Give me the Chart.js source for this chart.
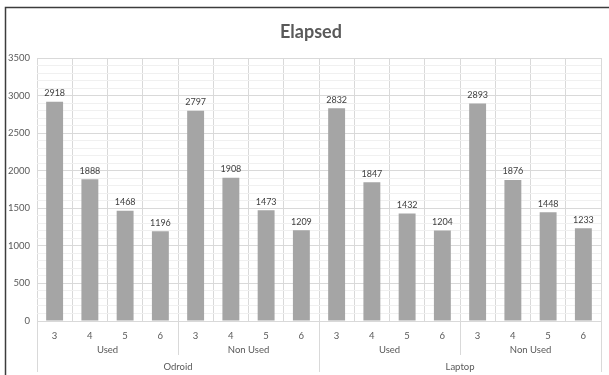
<!DOCTYPE html>
<html>
<head>
<meta charset="utf-8">
<script src="https://cdn.jsdelivr.net/npm/chart.js@4/dist/chart.umd.min.js"></script>
<style>
  html, body { margin: 0; padding: 0; background: #ffffff; }
  #wrap { width: 609px; height: 375px; position: relative; }
</style>
</head>
<body>
<div id="wrap"><canvas id="c" width="609" height="375"></canvas></div>
<script>
// Elapsed time per run, grouped by device and usage state
const threadLabels = ["3", "4", "5", "6", "3", "4", "5", "6", "3", "4", "5", "6", "3", "4", "5", "6"];
const usageLabels = ["Used", "Non Used", "Used", "Non Used"];
const deviceLabels = ["Odroid", "Laptop"];
const elapsedValues = [2918, 1888, 1468, 1196, 2797, 1908, 1473, 1209, 2832, 1847, 1432, 1204, 2893, 1876, 1448, 1233];
const yTicks = [0, 500, 1000, 1500, 2000, 2500, 3000, 3500];
const chartTitle = "Elapsed";

const FONT = "Lato, 'Liberation Sans', sans-serif";
const TEXT = "#595959";
const GRID_MAJOR = "#d9d9d9";
const GRID_MINOR = "#f0f0f0";

// Frame, title, value labels and the grouped category axis
const decorations = {
  id: "decorations",
  beforeDraw(chart) {
    const ctx = chart.ctx;
    ctx.save();
    ctx.fillStyle = "#ffffff";
    ctx.fillRect(0, 0, chart.width, chart.height);
    ctx.restore();
  },
  afterDraw(chart) {
    const ctx = chart.ctx;
    const x = chart.scales.x;
    const area = chart.chartArea;
    const n = threadLabels.length;
    const step = (area.right - area.left) / n;
    ctx.save();

    // outer frame
    ctx.strokeStyle = "#3c3c3c";
    ctx.lineWidth = 1.5;
    ctx.beginPath();
    ctx.moveTo(5.5, chart.height);
    ctx.lineTo(5.5, 7.5);
    ctx.lineTo(chart.width, 7.5);
    ctx.stroke();

    // title
    ctx.fillStyle = TEXT;
    ctx.font = "bold 18px " + FONT;
    ctx.textAlign = "center";
    ctx.textBaseline = "middle";
    ctx.fillText(chartTitle, 311, 32);

    // value labels above bars
    ctx.font = "9px " + FONT;
    ctx.fillStyle = "#404040";
    ctx.textBaseline = "bottom";
    const meta = chart.getDatasetMeta(0);
    meta.data.forEach((bar, i) => {
      ctx.fillText(String(elapsedValues[i]), bar.x, bar.y - 4);
    });

    // grouped axis dividers
    ctx.strokeStyle = GRID_MAJOR;
    ctx.lineWidth = 1;
    const boundary = (k) => Math.round(x.getPixelForValue(k) - step / 2) + 0.5;
    for (let k = 0; k <= n; k += 4) {
      const px = k === n ? Math.round(area.right) + 0.5 : boundary(k);
      const deep = (k % 8 === 0);
      ctx.beginPath();
      ctx.moveTo(px, area.bottom);
      ctx.lineTo(px, deep ? 372 : 355);
      ctx.stroke();
    }

    // usage labels
    ctx.fillStyle = TEXT;
    ctx.font = "9.5px " + FONT;
    ctx.textBaseline = "middle";
    usageLabels.forEach((lab, g) => {
      const a = x.getPixelForValue(g * 4);
      const b = x.getPixelForValue(g * 4 + 3);
      ctx.fillText(lab, (a + b) / 2, 350);
    });
    // device labels
    deviceLabels.forEach((lab, g) => {
      const a = x.getPixelForValue(g * 8);
      const b = x.getPixelForValue(g * 8 + 7);
      ctx.fillText(lab, (a + b) / 2, 367);
    });
    ctx.restore();
  }
};

new Chart(document.getElementById("c"), {
  type: "bar",
  data: {
    labels: threadLabels,
    datasets: [{
      label: chartTitle,
      data: elapsedValues,
      backgroundColor: "#a5a5a5",
      borderWidth: 0,
      barPercentage: 0.48,
      categoryPercentage: 1.0
    }]
  },
  options: {
    responsive: false,
    animation: false,
    devicePixelRatio: 1,
    layout: { padding: { top: 58, right: 8, left: 0, bottom: 0 } },
    plugins: {
      legend: { display: false },
      title: { display: false },
      tooltip: { enabled: false }
    },
    scales: {
      x: {
        offset: true,
        grid: { color: GRID_MAJOR, drawTicks: false, offset: true },
        border: { color: GRID_MAJOR },
        ticks: {
          color: TEXT,
          font: { family: FONT, size: 9.5 },
          padding: 9,
          maxRotation: 0,
          autoSkip: false
        },
        afterFit(scale) { scale.height = 54; }
      },
      y: {
        min: 0,
        max: 3500,
        grid: {
          drawTicks: false,
          color: (c) => (c.tick && c.tick.value % 500 === 0) ? GRID_MAJOR : GRID_MINOR
        },
        border: { display: false },
        ticks: {
          stepSize: 100,
          autoSkip: false,
          color: TEXT,
          font: { family: FONT, size: 9.5 },
          padding: 7,
          callback: (v) => yTicks.includes(v) ? String(v) : ""
        },
        afterFit(scale) { scale.width = 37; }
      }
    }
  },
  plugins: [decorations]
});
</script>
</body>
</html>
